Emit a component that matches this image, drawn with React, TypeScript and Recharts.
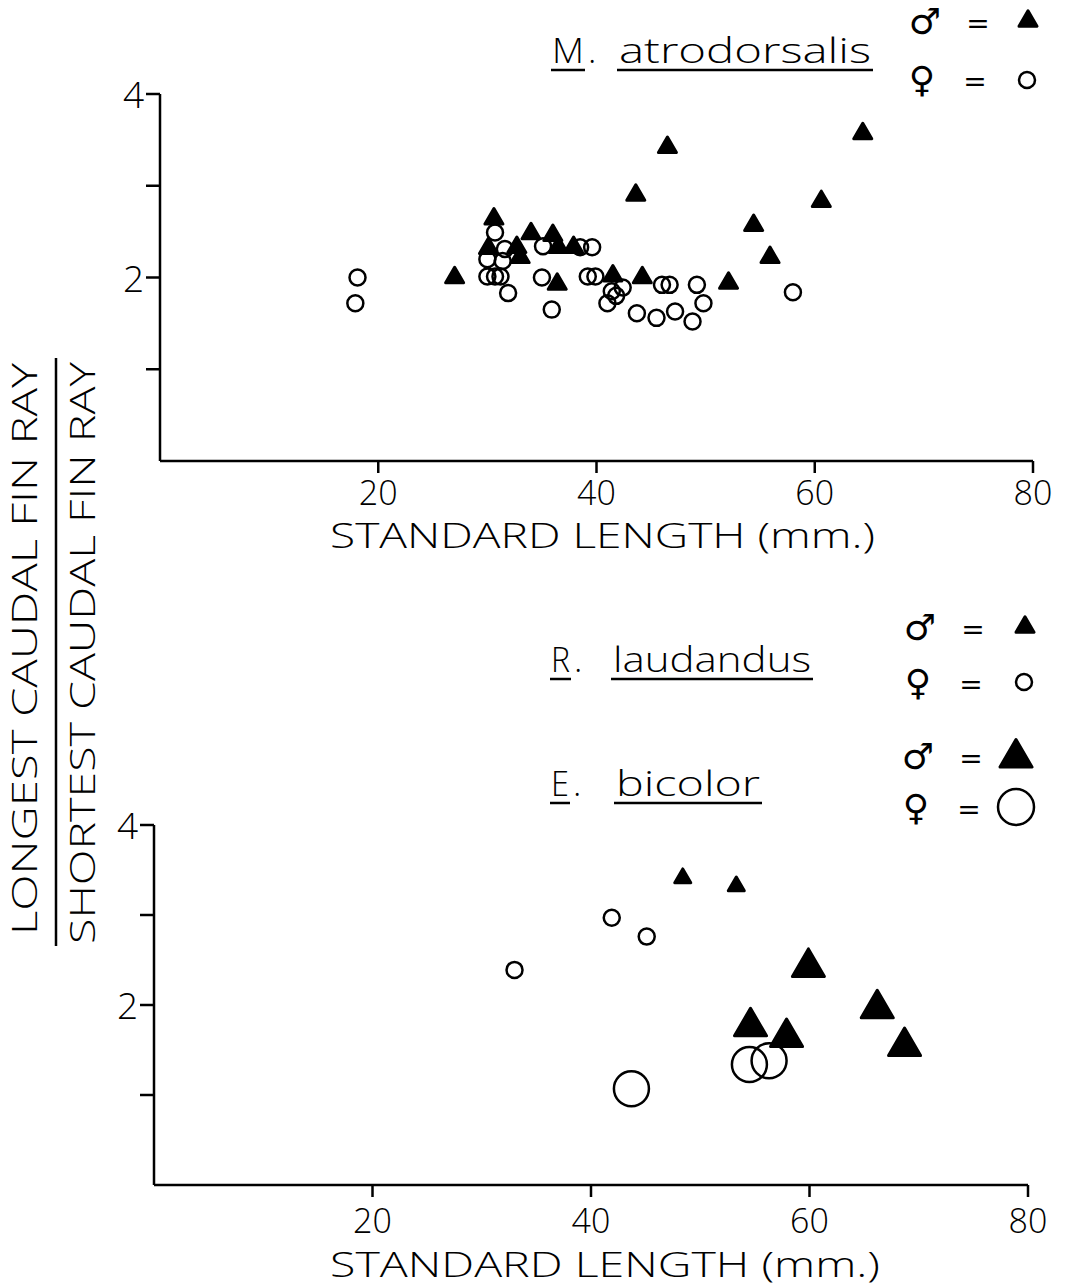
import { ScatterChart, Scatter, XAxis, YAxis } from "recharts";

// M. atrodorsalis
const atroMaleLength = [27.0, 30.6, 30.1, 32.7, 33.0, 34.0, 36.0, 36.5, 37.9, 36.4, 41.5, 44.2, 52.1, 43.6, 46.5, 54.4, 55.9, 60.6, 64.4];
const atroMaleRatio = [2.01, 2.65, 2.33, 2.34, 2.23, 2.49, 2.47, 2.34, 2.34, 1.94, 2.03, 2.01, 1.95, 2.91, 3.43, 2.58, 2.23, 2.84, 3.58];
const atroFemaleLength = [18.1, 17.9, 30.7, 30.0, 30.0, 30.7, 31.2, 31.9, 31.6, 31.4, 35.1, 35.0, 35.9, 38.5, 39.6, 39.2, 39.9, 41.0, 41.4, 41.8, 42.4, 43.7, 45.5, 46.0, 46.7, 47.2, 48.8, 49.2, 49.8, 58.0];
const atroFemaleRatio = [2.0, 1.72, 2.49, 2.2, 2.01, 2.01, 2.01, 1.83, 2.31, 2.18, 2.34, 2.0, 1.65, 2.33, 2.33, 2.01, 2.01, 1.72, 1.85, 1.8, 1.89, 1.61, 1.56, 1.92, 1.92, 1.63, 1.52, 1.92, 1.72, 1.84];

// R. laudandus
const laudMaleLength = [48.4, 53.3];
const laudMaleRatio = [3.42, 3.33];
const laudFemaleLength = [33.0, 41.9, 45.1];
const laudFemaleRatio = [2.39, 2.97, 2.76];

// E. bicolor
const bicoMaleLength = [54.6, 57.9, 59.9, 66.2, 68.7];
const bicoMaleRatio = [1.78, 1.66, 2.44, 1.98, 1.56];
const bicoFemaleLength = [43.7, 54.5, 56.3];
const bicoFemaleRatio = [1.07, 1.34, 1.38];

const xTicks = [20, 40, 60, 80];
const yTicks = [1, 2, 3, 4];
const yLabelled = [2, 4];

const FONT = "'Open Sans', 'DejaVu Sans', sans-serif";
const SYM = "'DejaVu Sans', sans-serif";

const pts = (xs: number[], ys: number[]) => xs.map((x, i) => ({ x, y: ys[i] }));

function triShape(w: number) {
  return (props: any) => {
    const { cx, cy } = props;
    const h = w * 0.86;
    const d = `M${cx},${cy - h * 0.6} L${cx + w / 2},${cy + h * 0.4} L${cx - w / 2},${cy + h * 0.4} Z`;
    return <path d={d} fill="#000" stroke="#000" strokeWidth={3} strokeLinejoin="round" />;
  };
}

function ringShape(r: number) {
  return (props: any) => <circle cx={props.cx} cy={props.cy} r={r} fill="none" stroke="#000" strokeWidth={2.5} />;
}

function xTick(dy: number) {
  return (props: any) => (
    <text x={props.x} y={props.y} dy={dy} textAnchor="middle" fontSize={34} fontFamily={FONT} fontWeight={300} fill="#000">
      {props.payload.value}
    </text>
  );
}

const yTick = (props: any) =>
  yLabelled.includes(props.payload.value) ? (
    <text x={props.x} y={props.y} dy={14} textAnchor="end" fontSize={37} fontFamily={FONT} fontWeight={300} fill="#000">
      {props.payload.value}
    </text>
  ) : (
    <g />
  );

function Panel(props: { height: number; margin: any; xHeight: number; tickDy: number; children: any }) {
  return (
    <ScatterChart width={1069} height={props.height} margin={props.margin}>
      <XAxis
        type="number"
        dataKey="x"
        domain={[0, 80]}
        ticks={xTicks}
        height={props.xHeight}
        tickSize={12}
        tickMargin={0}
        stroke="#000"
        strokeWidth={2.5}
        tick={xTick(props.tickDy)}
      />
      <YAxis
        type="number"
        dataKey="y"
        domain={[0, 4]}
        ticks={yTicks}
        width={60}
        tickSize={14}
        tickMargin={2}
        stroke="#000"
        strokeWidth={2.5}
        tick={yTick}
      />
      {props.children}
    </ScatterChart>
  );
}

function Title(props: { x: number; y: number; abbr: string; name: string; nameX: number; abbrW: number; nameW: number }) {
  const { x, y, abbr, name, nameX, abbrW, nameW } = props;
  return (
    <g fontFamily={FONT} fontWeight={300} fontSize={35} fill="#000">
      <text x={x} y={y} textLength={abbrW} lengthAdjust="spacingAndGlyphs">{abbr}</text>
      <text x={x + abbrW + 4} y={y}>.</text>
      <text x={nameX} y={y} textLength={nameW} lengthAdjust="spacingAndGlyphs">{name}</text>
      <line x1={x - 1} x2={x + abbrW + 1} y1={y + 7} y2={y + 7} stroke="#000" strokeWidth={2.5} />
      <line x1={nameX - 2} x2={nameX + nameW + 2} y1={y + 7} y2={y + 7} stroke="#000" strokeWidth={2.5} />
    </g>
  );
}

function Key(props: { x: number; y: number; glyph: string; mark: any }) {
  return (
    <g>
      <text x={props.x} y={props.y + 12} textAnchor="middle" fontFamily={SYM} fontSize={36} fill="#000">{props.glyph}</text>
      <text x={props.x + 53} y={props.y + 11} textAnchor="middle" fontFamily={SYM} fontSize={28} fill="#000">=</text>
      {props.mark}
    </g>
  );
}

const Overlay = () => {
  const smallTri = triShape(18);
  const bigTri = triShape(32);
  return (
    <svg width={1069} height={1286} style={{ position: "absolute", left: 0, top: 0, pointerEvents: "none" }}>
      {/* y axis label, a fraction */}
      <g fontFamily={FONT} fontWeight={300} fontSize={34} fill="#000">
        <text transform="translate(37,649) rotate(-90)" textAnchor="middle" textLength={572} lengthAdjust="spacingAndGlyphs">
          LONGEST CAUDAL FIN RAY
        </text>
        <text transform="translate(95,653) rotate(-90)" textAnchor="middle" textLength={582} lengthAdjust="spacingAndGlyphs">
          SHORTEST CAUDAL FIN RAY
        </text>
      </g>
      <line x1={56} x2={56} y1={358} y2={946} stroke="#000" strokeWidth={2.5} />

      {/* x axis titles */}
      <g fontFamily={FONT} fontWeight={300} fontSize={34} fill="#000">
        <text x={330} y={548} textLength={545} lengthAdjust="spacingAndGlyphs">STANDARD LENGTH (mm.)</text>
        <text x={330} y={1277} textLength={550} lengthAdjust="spacingAndGlyphs">STANDARD LENGTH (mm.)</text>
      </g>

      <Title x={552} y={63} abbr="M" name="atrodorsalis" nameX={619} abbrW={32} nameW={252} />
      <Title x={551} y={672} abbr="R" name="laudandus" nameX={613} abbrW={19} nameW={198} />
      <Title x={551} y={796} abbr="E" name="bicolor" nameX={616} abbrW={18} nameW={144} />

      <Key x={925} y={22} glyph={"\u2642"} mark={smallTri({ cx: 1028, cy: 20 })} />
      <Key x={922} y={80} glyph={"\u2640"} mark={<circle cx={1027} cy={80} r={8} fill="none" stroke="#000" strokeWidth={2.5} />} />

      <Key x={920} y={628} glyph={"\u2642"} mark={smallTri({ cx: 1025, cy: 626 })} />
      <Key x={918} y={683} glyph={"\u2640"} mark={<circle cx={1024} cy={682} r={8} fill="none" stroke="#000" strokeWidth={2.5} />} />
      <Key x={918} y={757} glyph={"\u2642"} mark={bigTri({ cx: 1016, cy: 756 })} />
      <Key x={916} y={808} glyph={"\u2640"} mark={<circle cx={1016} cy={807} r={18} fill="none" stroke="#000" strokeWidth={2.5} />} />
    </svg>
  );
};

export default function App() {
  return (
    <div style={{ position: "absolute", left: 0, top: 0, width: 1069, height: 1286, background: "#fff" }}>
      <div style={{ position: "absolute", left: 0, top: 0 }}>
        <Panel height={560} margin={{ top: 94, right: 36, bottom: 0, left: 100 }} xHeight={99} tickDy={32}>
          <Scatter data={pts(atroFemaleLength, atroFemaleRatio)} shape={ringShape(8)} isAnimationActive={false} />
          <Scatter data={pts(atroMaleLength, atroMaleRatio)} shape={triShape(18)} isAnimationActive={false} />
        </Panel>
      </div>
      <div style={{ position: "absolute", left: 0, top: 700 }}>
        <Panel height={586} margin={{ top: 125, right: 41, bottom: 0, left: 94 }} xHeight={101} tickDy={36}>
          <Scatter data={pts(laudFemaleLength, laudFemaleRatio)} shape={ringShape(8)} isAnimationActive={false} />
          <Scatter data={pts(laudMaleLength, laudMaleRatio)} shape={triShape(16)} isAnimationActive={false} />
          <Scatter data={pts(bicoFemaleLength, bicoFemaleRatio)} shape={ringShape(17.5)} isAnimationActive={false} />
          <Scatter data={pts(bicoMaleLength, bicoMaleRatio)} shape={triShape(32)} isAnimationActive={false} />
        </Panel>
      </div>
      <Overlay />
    </div>
  );
}
